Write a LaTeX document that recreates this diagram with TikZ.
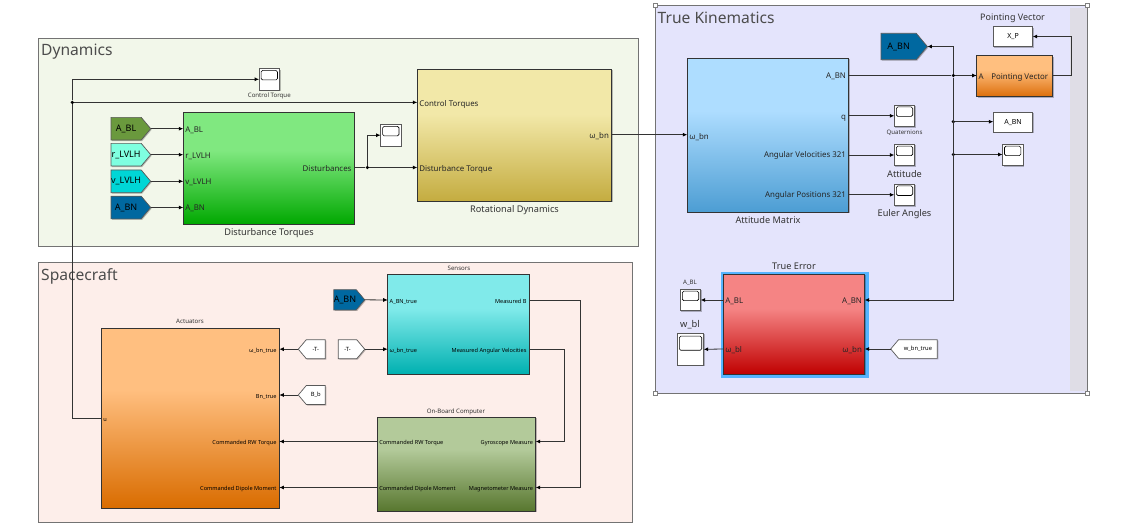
\documentclass[tikz,border=0pt]{standalone}
\usepackage{fontspec}
\setmainfont{Noto Sans}
\usetikzlibrary{arrows.meta, calc, shadows, shapes.symbols}

\definecolor{dynArea}{HTML}{F2F7EA}
\definecolor{craftArea}{HTML}{FDEEEA}
\definecolor{kinArea}{HTML}{E4E4FC}
\definecolor{kinStrip}{HTML}{DFDDE6}
\definecolor{glowBlue}{HTML}{55B4FF}
\definecolor{wire}{HTML}{333333}
\definecolor{gotoOlive}{HTML}{6A993D}
\definecolor{gotoAqua}{HTML}{7FFFE0}
\definecolor{gotoCyan}{HTML}{00D6D6}
\definecolor{gotoBlue}{HTML}{0068A0}

\pgfdeclareverticalshading[blockTop,blockBot]{blockgrad}{100bp}{color(0bp)=(blockBot); color(25bp)=(blockBot); color(58bp)=(blockTop); color(100bp)=(blockTop)}

\tikzset{
  area/.style={draw=black!55, line width=.9, anchor=north west, inner sep=0, outer sep=0},
  areatitle/.style={anchor=west, inner sep=0, text=black!70, font=\fontsize{15.6}{18}\selectfont},
  simblock/.style 2 args={draw=black!80, line width=.8, anchor=north west, inner sep=0, outer sep=0,
    drop shadow={shadow xshift=1pt, shadow yshift=-1pt, fill=black, opacity=.25},
    /utils/exec={\definecolor{blockTop}{HTML}{#1}\definecolor{blockBot}{HTML}{#2}}, shading=blockgrad},
  whitebox/.style={draw=black!65, line width=.7, fill=white, inner sep=0, outer sep=0,
    drop shadow={shadow xshift=1pt, shadow yshift=-1pt, fill=black, opacity=.25}},
  scopebox/.style={whitebox, minimum width=20.4, minimum height=21.6},
  handlebox/.style={draw=black!50, fill=white, line width=.5, inner sep=0, minimum size=3.5},
  gotobox/.style={signal, signal from=nowhere, signal pointer angle=100, draw=black!65, line width=.7,
    inner sep=0, outer sep=0, font=\fontsize{9}{10}\selectfont,
    drop shadow={shadow xshift=1pt, shadow yshift=-1pt, fill=black, opacity=.25}},
  gotoright/.style={gotobox, signal to=east, anchor=east},
  gotoleft/.style={gotobox, signal to=west, anchor=west},
  portin/.style={anchor=west, inner xsep=2, inner ysep=0, outer sep=0, text height=1.5ex, text depth=.25ex,
    text=black!85, font=\fontsize{7.9}{9}\selectfont},
  portout/.style={portin, anchor=east, inner xsep=2.8},
  tinyin/.style={portin, text=black, font=\fontsize{5.6}{7}\selectfont},
  tinyout/.style={portout, text=black, font=\fontsize{5.6}{7}\selectfont},
  caption/.style={inner sep=0, text=black!80, font=\fontsize{9.2}{11}\selectfont},
  tinycap/.style={caption, font=\fontsize{6.1}{7}\selectfont},
  sig/.style={draw=wire, line width=.8, -{Latex[length=4.5pt, width=4pt, black]}},
  plainsig/.style={draw=wire, line width=.8},
}
\newcommand\jdot[2]{\node [fill=black, circle, inner sep=0, minimum size=3.6] (#1) at #2 {};}
\newcommand\dscope[3][]{
  \node [scopebox, #1] (#2) at #3 {};
  \draw [rounded corners=1.5, line width=.6] ($(#2.north west)!.09!(#2.south west)+(2pt,0)$) rectangle ($(#2.north east)!.53!(#2.south east)+(-2pt,0)$);
}

\begin{document}
\begin{tikzpicture}[x=1pt, y=-1pt]
  \useasboundingbox (0, 0) rectangle (1147, 530);

  % areas
  \node [area, fill=dynArea, minimum width=600, minimum height=207.5] (dynamics) at (38.5, 38.5) {};
  \node [areatitle] (dynTitle) at (41, 52) {Dynamics};
  \node [area, fill=craftArea, minimum width=593.5, minimum height=260] (craft) at (38.5, 262.8) {};
  \node [areatitle] (craftTitle) at (41, 276.5) {Spacecraft};
  \node [area, fill=kinArea, minimum width=432, minimum height=388] (kinematics) at (655, 5) {};
  \node [anchor=north west, fill=kinStrip, inner sep=0, minimum width=16.5, minimum height=383] (strip) at (1070, 7.5) {};
  \node [areatitle] (kinTitle) at (657.5, 18) {True Kinematics};
  \node [handlebox] (hNW) at (655, 5) {};
  \node [handlebox] (hNE) at (1087, 5) {};
  \node [handlebox] (hSW) at (655, 393) {};
  \node [handlebox] (hSE) at (1087, 393) {};

  % dynamics
  \node [simblock={80E880}{00A800}, minimum width=171, minimum height=112] (dist) at (183.3, 112.3) {};
  \node [caption] (distCap) at (269, 233) {Disturbance Torques};
  \node [portin] (distABL) at (183.3, 128.7) {A\_BL};
  \node [portin] (distR) at (183.3, 154.7) {r\_LVLH};
  \node [portin] (distV) at (183.3, 181.3) {v\_LVLH};
  \node [portin] (distABN) at (183.3, 207.5) {A\_BN};
  \node [portout] (distOut) at (354.3, 168.5) {Disturbances};

  \node [simblock={F2E8A8}{C4AC40}, minimum width=194.4, minimum height=131.7] (rot) at (417.3, 69.3) {};
  \node [caption] (rotCap) at (514.5, 210) {Rotational Dynamics};
  \node [portin] (rotCtrl) at (417.3, 102.8) {Control Torques};
  \node [portin] (rotDist) at (417.3, 167.8) {Disturbance Torque};
  \node [portout] (rotOut) at (611.7, 134.9) {ω\_bn};

  \node [gotoright, fill=gotoOlive, minimum width=39.7, minimum height=22.7] (gABL) at (150.7, 128.7) {A\_BL};
  \node [gotoright, fill=gotoAqua, minimum width=39.7, minimum height=22.7] (gR) at (150.7, 154.7) {r\_LVLH};
  \node [gotoright, fill=gotoCyan, minimum width=39.7, minimum height=22.7] (gV) at (150.7, 181.3) {v\_LVLH};
  \node [gotoright, fill=gotoBlue, minimum width=39.7, minimum height=22.7] (gABN) at (150.7, 207.5) {A\_BN};

  \dscope{ctrlScope}{(269.3, 79.3)}
  \node [tinycap] (ctrlCap) at (269.3, 95.5) {Control Torque};
  \dscope{distScope}{(390.8, 135.2)}

  \jdot{ctrlDot}{(72.3, 102.4)}
  \jdot{distDot}{(367.3, 167.5)}

  \draw [sig] (gABL.east) -- (distABL.west);
  \draw [sig] (gR.east) -- (distR.west);
  \draw [sig] (gV.east) -- (distV.west);
  \draw [sig] (gABN.east) -- (distABN.west);
  \draw [plainsig] (distOut.east |- distDot) -- (distDot);
  \draw [sig] (distDot) -- (rotDist.west |- distDot);
  \draw [sig] (distDot) |- (distScope.west);
  \draw [sig] (ctrlDot) -- (rotCtrl.west |- ctrlDot);
  \draw [sig] (rotOut.east |- 0, 134.7) -- (687.3, 134.7);

  % true kinematics
  \node [simblock={AEDDFF}{4C9DD3}, minimum width=161.4, minimum height=154] (att) at (687.3, 58.3) {};
  \node [caption] (attCap) at (768, 220.5) {Attitude Matrix};
  \node [portin] (attIn) at (687.3, 136) {ω\_bn};
  \node [portout] (attABN) at (848.7, 75.5) {A\_BN};
  \node [portout] (attQ) at (848.7, 116) {q};
  \node [portout] (attVel) at (848.7, 154.5) {Angular Velocities 321};
  \node [portout] (attPos) at (848.7, 194.5) {Angular Positions 321};

  \node [simblock={FFBF7F}{DC6E0A}, minimum width=76, minimum height=41] (point) at (976.7, 55.7) {};
  \node [caption, font=\fontsize{9}{11}\selectfont] (pointCap) at (1012.5, 18) {Pointing Vector};
  \node [portin] (pointA) at (976.7, 75.7) {A};
  \node [portout, inner xsep=4.5] (pointOut) at (1052.7, 75.7) {Pointing Vector};

  \node [whitebox, text=black, minimum width=39.4, minimum height=20, font=\fontsize{7}{8}\selectfont] (xP) at (1013, 36.5) {X\_P};
  \node [whitebox, text=black, minimum width=39.4, minimum height=20, font=\fontsize{7}{8}\selectfont] (aBNout) at (1013, 122.3) {A\_BN};
  \node [gotoright, fill=gotoBlue, minimum width=46.3, minimum height=26.4] (gKin) at (927.3, 46.5) {A\_BN};

  \dscope{qScope}{(904.5, 115.8)}
  \node [tinycap] (qCap) at (904.5, 132.7) {Quaternions};
  \dscope{attScope}{(904.5, 155)}
  \node [caption] (attCap2) at (904.5, 174) {Attitude};
  \dscope{eulScope}{(904.5, 194.8)}
  \node [caption] (eulCap) at (904.5, 214) {Euler Angles};
  \dscope{rightScope}{(1012.7, 155)}

  \node [anchor=north west, fill=glowBlue, inner sep=0, minimum width=148, minimum height=106] (errGlow) at (720.3, 271.3) {};
  \node [simblock={F58484}{C00000}, minimum width=141.4, minimum height=100] (err) at (723.3, 274.3) {};
  \node [caption] (errCap) at (794, 266.5) {True Error};
  \node [portin] (errABL) at (723.3, 300) {A\_BL};
  \node [portin] (errWbl) at (723.3, 349) {ω\_bl};
  \node [portout] (errABN) at (864.7, 300) {A\_BN};
  \node [portout] (errWbn) at (864.7, 349) {ω\_bn};

  \dscope{ablScope}{(690.5, 300)}
  \node [tinycap] (ablCap) at (690, 282.5) {A\_BL};
  \dscope[minimum width=26.4, minimum height=32]{wblScope}{(690.5, 349.3)}
  \node [caption, font=\fontsize{9.3}{11}\selectfont] (wblCap) at (690, 325) {w\_bl};
  \node [gotoleft, fill=white, minimum width=46.6, minimum height=18.7, font=\fontsize{5.8}{7}\selectfont] (fWbn) at (890.7, 349) {w\_bn\_true};

  \jdot{busTop}{(953.3, 75.5)}
  \jdot{busMid}{(953.3, 121.7)}
  \jdot{busLow}{(953.3, 154.5)}

  \draw [plainsig] (attABN.east) -- (busTop);
  \draw [sig] (busTop) -- (pointA.west |- busTop);
  \draw [sig] (busTop) |- (gKin.east);
  \draw [sig] (busTop) |- (errABN.east);
  \draw [sig] (busMid) -- (aBNout.west |- busMid);
  \draw [sig] (busLow) -- (rightScope.west |- busLow);
  \draw [sig] (attQ.east |- qScope.west) -- (qScope.west);
  \draw [sig] (attVel.east |- attScope.west) -- (attScope.west);
  \draw [sig] (attPos.east |- eulScope.west) -- (eulScope.west);
  \draw [sig] (pointOut.east) -- ++(19, 0) |- (xP.east);
  \draw [sig] (errABL.west) -- (ablScope.east);
  \draw [sig] (errWbl.west) -- (wblScope.east);
  \draw [sig] (fWbn.west) -- (errWbn.east);

  % spacecraft
  \node [simblock={FFBF80}{D96C00}, minimum width=178, minimum height=180] (act) at (101.3, 328.3) {};
  \node [tinycap] (actCap) at (190, 321.7) {Actuators};
  \node [tinyin] (actU) at (101.3, 418.5) {u};
  \node [tinyout] (actW) at (279.3, 349.2) {ω\_bn\_true};
  \node [tinyout] (actB) at (279.3, 395) {Bn\_true};
  \node [tinyout] (actRW) at (279.3, 441.5) {Commanded RW Torque};
  \node [tinyout] (actDip) at (279.3, 487.5) {Commanded Dipole Moment};

  \node [simblock={80EAEA}{00B0B0}, minimum width=141.6, minimum height=100] (sens) at (387.7, 274.3) {};
  \node [tinycap] (sensCap) at (459, 268.5) {Sensors};
  \node [tinyin] (sensABN) at (387.7, 300) {A\_BN\_true};
  \node [tinyin] (sensW) at (387.7, 349.2) {ω\_bn\_true};
  \node [tinyout] (sensB) at (529.3, 300) {Measured B};
  \node [tinyout] (sensRate) at (529.3, 349.2) {Measured Angular Velocities};

  \node [simblock={B3CA9A}{58772F}, minimum width=158.4, minimum height=93.7] (obc) at (377.3, 417.3) {};
  \node [tinycap] (obcCap) at (456, 411.5) {On-Board Computer};
  \node [tinyin] (obcRW) at (377.3, 441.5) {Commanded RW Torque};
  \node [tinyin] (obcDip) at (377.3, 487.5) {Commanded Dipole Moment};
  \node [tinyout] (obcGyro) at (535.7, 441.5) {Gyroscope Measure};
  \node [tinyout] (obcMag) at (535.7, 487.5) {Magnetometer Measure};

  \node [gotoright, fill=gotoBlue, minimum width=30.4, minimum height=20.3] (gCraft) at (364.7, 299.8) {A\_BN};
  \node [gotoright, fill=white, minimum width=26.4, minimum height=19, font=\fontsize{5.8}{7}\selectfont] (gT) at (364.7, 349.2) {-T-};
  \node [gotoleft, fill=white, minimum width=27, minimum height=19, font=\fontsize{5.8}{7}\selectfont] (fT) at (298.3, 349.2) {-T-};
  \node [gotoleft, fill=white, minimum width=27, minimum height=19, font=\fontsize{5.8}{7}\selectfont] (fB) at (298.3, 395) {B\_b};

  \draw [sig] (gCraft.east) -- (sensABN.west);
  \draw [sig] (gT.east) -- (sensW.west);
  \draw [sig] (fT.west) -- (actW.east);
  \draw [sig] (fB.west) -- (actB.east);
  \draw [sig] (obcRW.west) -- (actRW.east);
  \draw [sig] (obcDip.west) -- (actDip.east);
  \draw [sig] (sensB.east) -| (580.3, 487.5) -- (obcMag.east);
  \draw [sig] (sensRate.east) -| (564.7, 441.5) -- (obcGyro.east);
  \draw [sig] (actU.west) -| (ctrlDot) |- (ctrlScope.west);
\end{tikzpicture}
\end{document}
